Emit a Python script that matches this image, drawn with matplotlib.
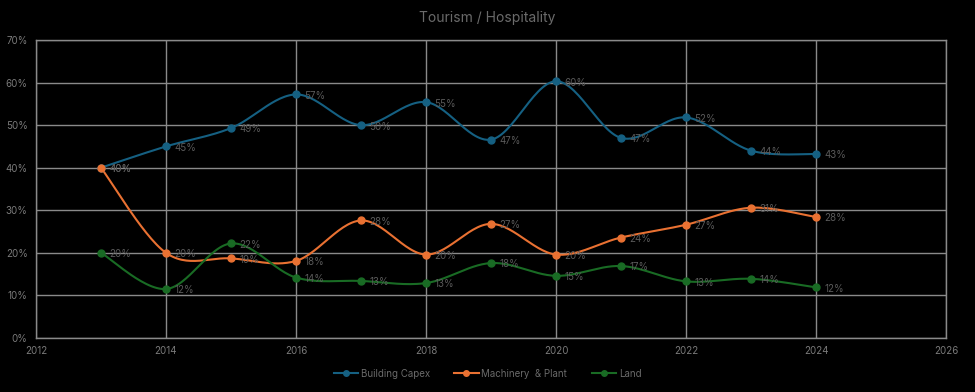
import numpy as np
import matplotlib
matplotlib.use("Agg")
import matplotlib.pyplot as plt
from matplotlib.ticker import FuncFormatter, MultipleLocator
from matplotlib.lines import Line2D

years = [2013, 2014, 2015, 2016, 2017, 2018, 2019, 2020, 2021, 2022, 2023, 2024]
building_capex = [40, 45, 49.3, 57.2, 50, 55.4, 46.6, 60.3, 47, 51.8, 44, 43.2]
machinery_plant = [40, 20, 18.7, 18.1, 27.6, 19.6, 26.8, 19.6, 23.6, 26.6, 30.6, 28.4]
land = [20, 11.5, 22.2, 14.2, 13.4, 12.9, 17.6, 14.6, 16.9, 13.3, 13.9, 11.9]
series_names = ["Building Capex", "Machinery  & Plant", "Land"]
colors = ["#156082", "#E97132", "#196B24"]

plt.rcParams['font.family'] = ['Inter', 'DejaVu Sans']


def smooth(x, y, n=30):
    x = np.asarray(x, float)
    y = np.asarray(y, float)
    xs, ys = [], []
    for i in range(len(x) - 1):
        p0 = np.array([x[max(i - 1, 0)], y[max(i - 1, 0)]])
        p1 = np.array([x[i], y[i]])
        p2 = np.array([x[i + 1], y[i + 1]])
        p3 = np.array([x[min(i + 2, len(x) - 1)], y[min(i + 2, len(x) - 1)]])
        c1 = p1 + (p2 - p0) / 6.0
        c2 = p2 - (p3 - p1) / 6.0
        t = np.linspace(0, 1, n)[:, None]
        pts = ((1 - t) ** 3) * p1 + 3 * ((1 - t) ** 2) * t * c1 + 3 * (1 - t) * t ** 2 * c2 + t ** 3 * p2
        xs.extend(pts[:, 0])
        ys.extend(pts[:, 1])
    return np.array(xs), np.array(ys)


fig = plt.figure(figsize=(9.75, 3.92), dpi=100, facecolor="black")
ax = fig.add_axes([0.0369, 0.1378, 0.9334, 0.7602], facecolor="black")

ax.set_xlim(2012, 2026)
ax.set_ylim(0, 70)
ax.xaxis.set_major_locator(MultipleLocator(2))
ax.yaxis.set_major_locator(MultipleLocator(10))
ax.yaxis.set_major_formatter(FuncFormatter(lambda v, p: f"{int(round(v))}%"))
ax.grid(True, color="#8a8a8a", linewidth=1.0)
ax.set_axisbelow(True)
for s in ax.spines.values():
    s.set_color("#8a8a8a")
    s.set_linewidth(1.0)
ax.tick_params(axis="both", length=0, labelsize=7, colors="#7a7a7a", pad=6)

handles = []
for name, vals, c in zip(series_names, [building_capex, machinery_plant, land], colors):
    sx, sy = smooth(years, vals)
    ax.plot(sx, sy, color=c, linewidth=1.5, zorder=3)
    ax.plot(years, vals, "o", color=c, markersize=5, zorder=4)
    for xv, yv in zip(years, vals):
        ax.annotate(f"{int(round(yv))}%", (xv, yv), xytext=(6, -1), textcoords="offset points",
                    va="center", ha="left", fontsize=7, color="#5a5a5a", zorder=5)
    handles.append(Line2D([0], [0], color=c, linewidth=1.5, marker="o", markersize=4))

fig.text(0.5, 0.955, "Tourism / Hospitality", ha="center", va="center", fontsize=10, color="#6a6a6a")
fig.legend(handles, series_names, loc="center", bbox_to_anchor=(0.5, 0.047), ncol=3, frameon=False,
           fontsize=7, labelcolor="#6a6a6a", handlelength=2.5, columnspacing=2.5, handletextpad=0.3)

fig.savefig("out.png", dpi=100, facecolor="black")
